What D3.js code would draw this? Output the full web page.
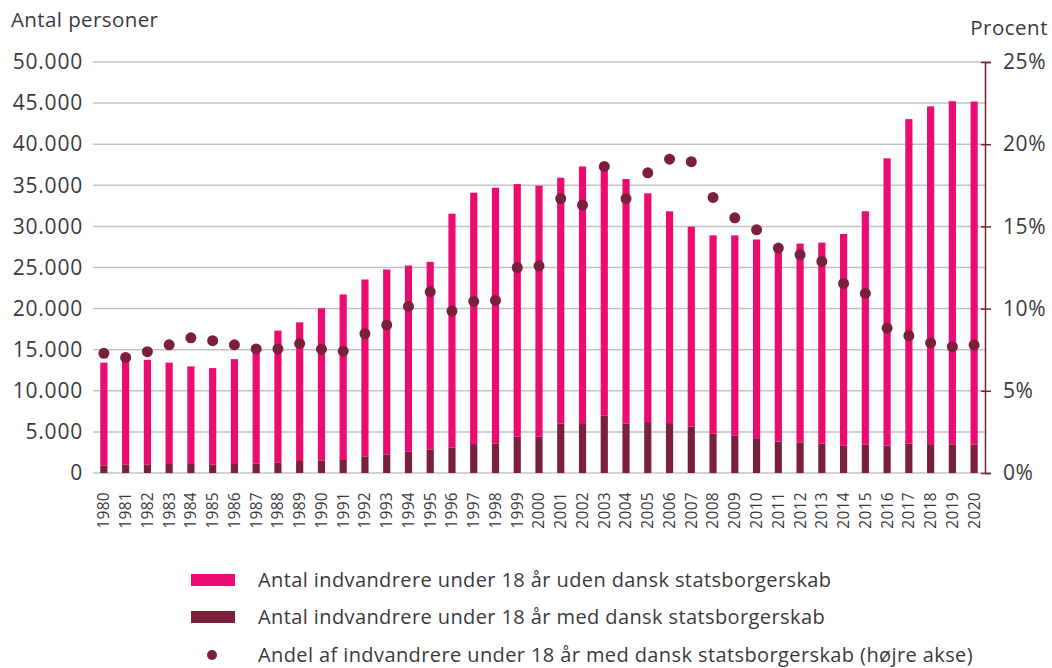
<!DOCTYPE html>
<html>
<head>
<meta charset="utf-8">
<script src="https://cdn.jsdelivr.net/npm/d3@7"></script>
<style>
  html, body { margin: 0; padding: 0; background: #fff; }
  svg { display: block; }
  text { font-family: "Open Sans", "Lato", sans-serif; fill: #3a3a3a; }
</style>
</head>
<body>
<svg id="chart" width="1052" height="668"></svg>
<script>
const years = d3.range(1980, 2021).map(String);
// Total immigrants under 18 (bar top)
const totalCount = [13430, 13850, 13770, 13430, 12970, 12760, 13850, 15100, 17320, 18330,
  20040, 21720, 23540, 24760, 25240, 25690, 31550, 34100, 34710, 35150,
  34950, 35920, 37290, 37700, 35760, 34020, 31830, 29970, 28910, 28910,
  28410, 27600, 27910, 28030, 29080, 31840, 38280, 43050, 44600, 45230, 45190];
// With Danish citizenship (dark segment)
const medCount = [880, 1000, 1000, 1090, 1090, 1000, 1090, 1170, 1300, 1460,
  1510, 1590, 2020, 2270, 2590, 2830, 3110, 3520, 3600, 4410,
  4410, 6030, 6070, 6960, 6030, 6190, 6070, 5640, 4770, 4520,
  4140, 3810, 3680, 3560, 3310, 3430, 3350, 3560, 3510, 3430, 3430];
// Without Danish citizenship (pink segment)
const udenCount = totalCount.map((t, i) => t - medCount[i]);
// Share with Danish citizenship, percent (right axis)
const andelPct = [7.28, 7.03, 7.38, 7.80, 8.22, 8.05, 7.80, 7.55, 7.55, 7.87,
  7.53, 7.41, 8.47, 9.0, 10.13, 11.02, 9.85, 10.44, 10.5, 12.5,
  12.6, 16.69, 16.3, 18.65, 16.69, 18.26, 19.09, 18.94, 16.76, 15.52,
  14.79, 13.68, 13.28, 12.87, 11.53, 10.92, 8.81, 8.35, 7.91, 7.68, 7.78];
const leftTicks = [0, 5000, 10000, 15000, 20000, 25000, 30000, 35000, 40000, 45000, 50000];
const rightTicks = [0, 5, 10, 15, 20, 25];
const seriesNames = [
  "Antal indvandrere under 18 år uden dansk statsborgerskab",
  "Antal indvandrere under 18 år med dansk statsborgerskab",
  "Andel af indvandrere under 18 år med dansk statsborgerskab (højre akse)"
];
const leftTitle = "Antal personer";
const rightTitle = "Procent";

const PINK = "#EC0B70", DARK = "#7C1F3A", GRID = "#c3c3c3";
const svg = d3.select("#chart");
const m = { left: 93, right: 985, top: 62, bottom: 473 };

const x = d3.scaleBand().domain(years).range([m.left, m.right]).paddingInner(0.67).paddingOuter(0.335);
const y = d3.scaleLinear().domain([0, 50000]).range([m.bottom, m.top]);
const y2 = d3.scaleLinear().domain([0, 25]).range([m.bottom, m.top]);

// gridlines
svg.append("g").selectAll("line").data(leftTicks).join("line")
  .attr("x1", m.left).attr("x2", m.right)
  .attr("y1", d => y(d)).attr("y2", d => y(d))
  .attr("stroke", GRID).attr("stroke-width", 1.5);

// left axis labels
const fmt = d => d3.format(",")(d).replace(/,/g, ".");
const gl = svg.append("g").attr("transform", `translate(${m.left},0)`)
  .call(d3.axisLeft(y).tickValues(leftTicks).tickFormat(fmt).tickSize(0).tickPadding(10));
gl.select(".domain").remove();
gl.selectAll("text").style("font-size", "21px").style("letter-spacing", "0.8px")
  .attr("fill", "#3a3a3a").attr("font-family", null);

// right axis
const gr = svg.append("g").attr("transform", `translate(${m.right},0)`)
  .call(d3.axisRight(y2).tickValues(rightTicks).tickFormat(d => d + "%").tickSize(6).tickPadding(12));
gr.select(".domain").attr("stroke", DARK).attr("stroke-width", 1.5);
gr.selectAll(".tick line").attr("stroke", DARK).attr("stroke-width", 1.5).attr("x1", -4);
gr.selectAll("text").style("font-size", "21px").style("letter-spacing", "0.6px")
  .attr("fill", "#3a3a3a").attr("font-family", null);

// bars
const rows = years.map((yr, i) => ({ year: yr, med: medCount[i], uden: udenCount[i], pct: andelPct[i] }));
const stack = d3.stack().keys(["med", "uden"])(rows);
const colors = { med: DARK, uden: PINK };
svg.append("g").selectAll("g").data(stack).join("g")
  .attr("fill", d => colors[d.key])
  .selectAll("rect").data(d => d).join("rect")
  .attr("x", d => x(d.data.year))
  .attr("width", x.bandwidth())
  .attr("y", d => y(d[1]))
  .attr("height", d => y(d[0]) - y(d[1]));

// dots
svg.append("g").selectAll("circle").data(rows).join("circle")
  .attr("cx", d => x(d.year) + x.bandwidth() / 2)
  .attr("cy", d => y2(d.pct))
  .attr("r", 5.5).attr("fill", DARK);

// x labels
const gx = svg.append("g").attr("transform", `translate(0,${m.bottom})`)
  .call(d3.axisBottom(x).tickSize(0).tickPadding(0));
gx.select(".domain").remove();
gx.selectAll("text")
  .attr("transform", "rotate(-90)")
  .attr("x", -19).attr("y", 0).attr("dy", "0.35em")
  .style("text-anchor", "end")
  .style("font-size", "15.5px").style("letter-spacing", "0.3px")
  .attr("fill", "#3a3a3a").attr("font-family", null);

// axis titles
svg.append("text").attr("x", 11).attr("y", 27).style("font-size", "20.5px")
  .style("letter-spacing", "0.4px").text(leftTitle);
svg.append("text").attr("x", 1048).attr("y", 35).style("font-size", "20.5px")
  .style("letter-spacing", "0.5px").style("text-anchor", "end").text(rightTitle);

// legend
const lg = svg.append("g");
const legRows = [580, 617, 655];
lg.append("rect").attr("x", 191).attr("y", legRows[0] - 6).attr("width", 44).attr("height", 12).attr("fill", PINK);
lg.append("rect").attr("x", 191).attr("y", legRows[1] - 6).attr("width", 44).attr("height", 12).attr("fill", DARK);
lg.append("circle").attr("cx", 212).attr("cy", legRows[2]).attr("r", 5).attr("fill", DARK);
lg.selectAll("text.leg").data(seriesNames).join("text").attr("class", "leg")
  .attr("x", 258).attr("y", (d, i) => legRows[i]).attr("dy", "0.35em")
  .style("font-size", "20px").style("letter-spacing", "0.4px").text(d => d);
</script>
</body>
</html>
